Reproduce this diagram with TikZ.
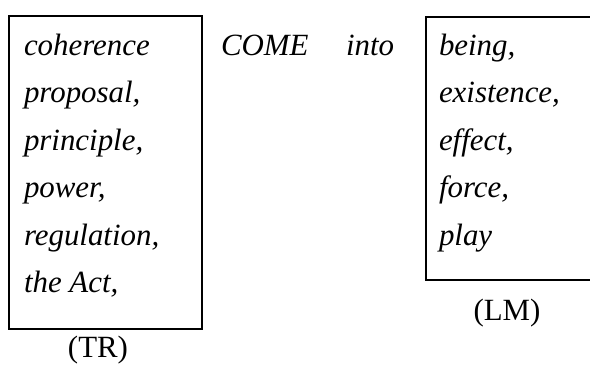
\documentclass[tikz,border=0pt]{standalone}
\usepackage{fontspec}
\setmainfont{Liberation Serif}
\begin{document}
\begin{tikzpicture}[x=1bp,y=-1bp,
  every node/.style={inner sep=0pt, outer sep=0pt},
  word/.style={anchor=base west, font=\fontsize{31}{31}\selectfont\itshape},
  lab/.style={anchor=base, font=\fontsize{31}{31}\selectfont},
  boxline/.style={draw, line width=1.8bp}]
\useasboundingbox (0,0) rectangle (590,369);
% left box (TR)
\node[boxline, minimum width=193bp, minimum height=313bp] (trbox) at (105.5,172.5) {};
% right box (LM), open on the right where the picture is cut
\coordinate (lmtr) at (600,17);
\coordinate (lmbr) at (600,280);
\draw[boxline] (lmtr) -| (426,280) coordinate (lmbl) -- (lmbr);
% left column
\node[word] (w1) at (24,55) {coherence};
\node[word] (w2) at (24,102.5) {proposal,};
\node[word] (w3) at (24,150) {principle,};
\node[word] (w4) at (24,197.5) {power,};
\node[word] (w5) at (24,245) {regulation,};
\node[word] (w6) at (24,292.5) {the Act,};
% middle
\node[word] (come) at (221,55) {COME};
\node[word] (into) at (346,55) {into};
% right column
\node[word] (r1) at (439,55) {being,};
\node[word] (r2) at (439,102.5) {existence,};
\node[word] (r3) at (439,150) {effect,};
\node[word] (r4) at (439,197.5) {force,};
\node[word] (r5) at (439,245) {play};
% labels
\node[lab] (tr) at (98,357) {(TR)};
\node[lab] (lm) at (507,320) {(LM)};
\end{tikzpicture}
\end{document}
